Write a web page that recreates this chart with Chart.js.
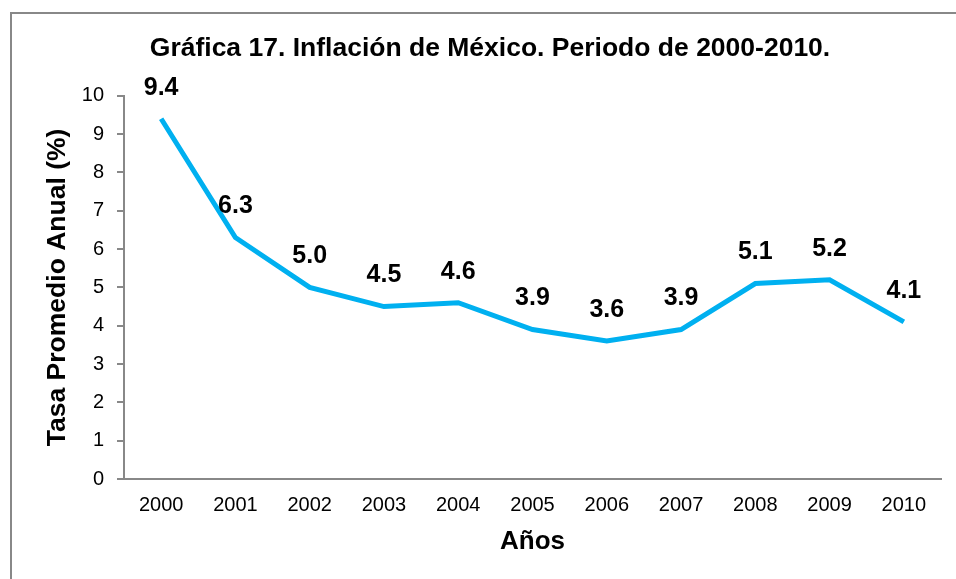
<!DOCTYPE html>
<html lang="es">
<head>
    <meta charset="UTF-8">
    <title>Gráfica 17. Inflación de México</title>
    <script src="https://cdn.jsdelivr.net/npm/chart.js"></script>
    <style>
        body { margin: 0; overflow: hidden; background: #fff; }
        #frame { position: absolute; left: 10px; top: 12px; width: 1000px; height: 600px; border: 2px solid #888; }
        #wrap { position: absolute; left: 0; top: 0; width: 980px; height: 579px; }
    </style>
</head>
<body>
    <div id="frame"></div>
    <div id="wrap"><canvas id="inflacionChart"></canvas></div>

    <script>
        // Datos
        const years = ['2000', '2001', '2002', '2003', '2004', '2005', '2006', '2007', '2008', '2009', '2010'];
        const inflation = [9.4, 6.3, 5.0, 4.5, 4.6, 3.9, 3.6, 3.9, 5.1, 5.2, 4.1];
        const yTicks = [0, 1, 2, 3, 4, 5, 6, 7, 8, 9, 10];

        const FONT = "'Liberation Sans', Arial, sans-serif";

        // etiquetas de valor encima de cada punto
        const valueLabels = {
            id: 'valueLabels',
            afterDatasetsDraw(chart) {
                const ctx = chart.ctx;
                const meta = chart.getDatasetMeta(0);
                ctx.save();
                ctx.font = 'bold 25px ' + FONT;
                ctx.fillStyle = '#000';
                ctx.textAlign = 'center';
                ctx.textBaseline = 'middle';
                meta.data.forEach((pt, i) => {
                    ctx.fillText(inflation[i].toFixed(1), pt.x, pt.y - 31);
                });
                ctx.restore();
            }
        };

        const ctx = document.getElementById('inflacionChart').getContext('2d');
        const chart = new Chart(ctx, {
            type: 'line',
            data: {
                labels: years,
                datasets: [{
                    label: 'Inflación',
                    data: inflation,
                    borderColor: '#00B0F0',
                    borderWidth: 5,
                    pointRadius: 0,
                    tension: 0,
                    fill: false
                }]
            },
            options: {
                responsive: true,
                maintainAspectRatio: false,
                animation: false,
                layout: { padding: { left: 12, right: 12, top: 14, bottom: 12 } },
                plugins: {
                    legend: { display: false },
                    tooltip: { enabled: false },
                    title: {
                        display: true,
                        text: 'Gráfica 17. Inflación de México. Periodo de 2000-2010.',
                        color: '#000',
                        font: { family: FONT, size: 26.5, weight: 'bold' },
                        padding: { top: 19, bottom: 31 }
                    }
                },
                scales: {
                    x: {
                        offset: true,
                        grid: { display: true, drawOnChartArea: false, drawTicks: false, color: '#888' },
                        border: { display: true, color: '#888', width: 2 },
                        ticks: { color: '#000', padding: 14, font: { family: FONT, size: 20 }, maxRotation: 0 },
                        title: {
                            display: true,
                            text: 'Años',
                            color: '#000',
                            font: { family: FONT, size: 26, weight: 'bold' },
                            padding: { top: 0, bottom: 10 }
                        },
                        afterFit(scale) { scale.height = 88; }
                    },
                    y: {
                        min: 0,
                        max: 10,
                        afterBuildTicks(scale) { scale.ticks = yTicks.map(v => ({ value: v })); },
                        grid: { drawOnChartArea: false, drawTicks: true, tickLength: 7, color: '#888', lineWidth: 2 },
                        border: { display: true, color: '#888', width: 2 },
                        ticks: { color: '#000', padding: 13, font: { family: FONT, size: 20 } },
                        title: {
                            display: true,
                            text: 'Tasa Promedio Anual (%)',
                            color: '#000',
                            font: { family: FONT, size: 26.5, weight: 'bold' },
                            padding: { top: 30, bottom: 0 }
                        },
                        afterFit(scale) { scale.width = 112; }
                    },
                    // eje vacío a la derecha: sólo reserva espacio para centrar el título
                    yRight: {
                        position: 'right',
                        display: true,
                        grid: { display: false },
                        border: { display: false },
                        ticks: { display: false },
                        afterFit(scale) { scale.width = 27; }
                    }
                }
            },
            plugins: [valueLabels]
        });
    </script>
</body>
</html>
